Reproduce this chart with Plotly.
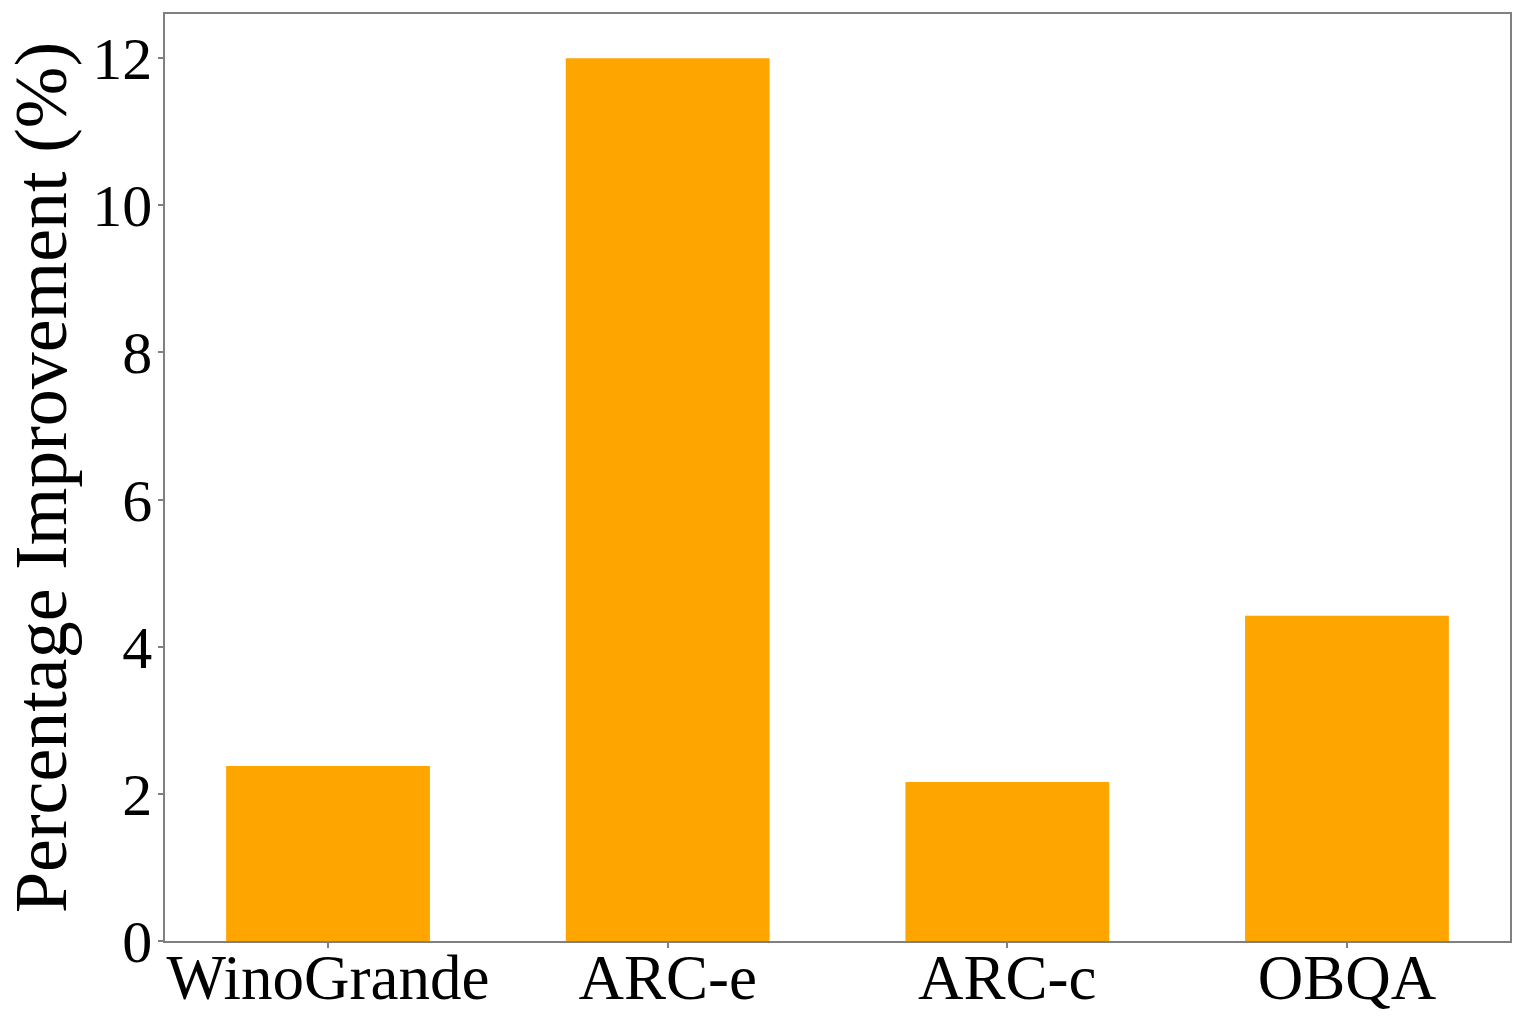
import plotly.graph_objects as go

datasets = ["WinoGrande", "ARC-e", "ARC-c", "OBQA"]
improvement = [2.38, 12.0, 2.16, 4.42]

BAR_COLOR = "#FFA500"
AXIS_COLOR = "#808080"
FONT = "Liberation Serif, Times New Roman, serif"

fig = go.Figure(
    go.Bar(
        x=list(range(len(datasets))),
        y=improvement,
        width=0.6,
        marker=dict(color=BAR_COLOR, line_width=0),
    )
)

fig.update_layout(
    width=1522,
    height=1028,
    margin=dict(l=165, r=12, t=14, b=87),
    paper_bgcolor="white",
    plot_bgcolor="white",
    showlegend=False,
    font=dict(family=FONT, color="black", size=63),
    xaxis=dict(
        range=[-0.48, 3.48],
        tickvals=list(range(len(datasets))),
        ticktext=datasets,
        ticks="outside",
        ticklen=5,
        tickwidth=1.5,
        tickcolor=AXIS_COLOR,
        showline=True,
        linecolor=AXIS_COLOR,
        linewidth=1.5,
        mirror=True,
        showgrid=False,
        zeroline=False,
        tickfont=dict(size=63),
        ticklabelstandoff=-24,
        automargin=False,
    ),
    yaxis=dict(
        range=[0, 12.6],
        tickvals=[0, 2, 4, 6, 8, 10, 12],
        ticks="outside",
        ticklen=5,
        tickwidth=1.5,
        tickcolor=AXIS_COLOR,
        showline=True,
        linecolor=AXIS_COLOR,
        linewidth=1.5,
        mirror=True,
        showgrid=False,
        zeroline=False,
        tickfont=dict(size=60),
        ticklabelstandoff=-6,
        title=dict(text="Percentage Improvement (%)", font=dict(size=74), standoff=14),
        automargin=False,
    ),
)

# page body has a default 8px margin; drop it so the figure sits at 0,0
fig.write_html(
    "out.html",
    config={"displayModeBar": False},
    post_script="document.body.style.margin='0';",
)
